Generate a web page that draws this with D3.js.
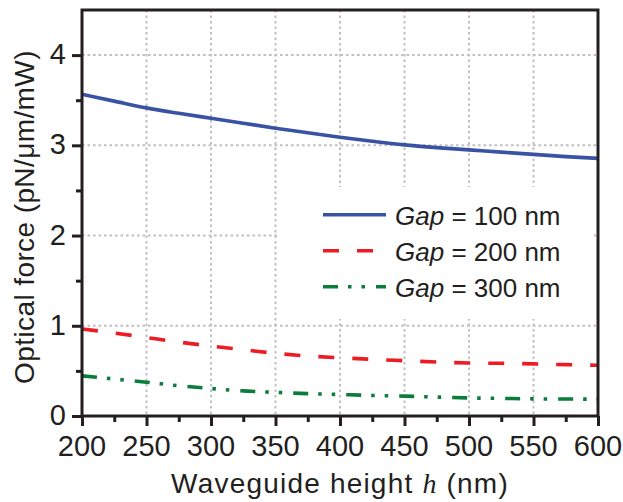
<!DOCTYPE html>
<html>
<head>
<meta charset="utf-8">
<script src="https://d3js.org/d3.v7.min.js"></script>
<style>
    body { margin: 0; background: #fff; }
    text { font-family: "Liberation Sans", Arial, sans-serif; fill: #231f20; }
    .axis path { display: none; }
    .axis line { stroke: #231f20; stroke-width: 3; }
    .grid line { stroke: #c0c0c0; stroke-width: 2; stroke-dasharray: 2.6, 2.9; }
</style>
</head>
<body>
<div id="chart"></div>
<script>
var margin = { top: 10, right: 25, bottom: 86, left: 82 },
    width = 623 - margin.left - margin.right,
    height = 502 - margin.top - margin.bottom;

// waveguide height (nm)
var heights = [200, 225, 250, 275, 300, 325, 350, 375, 400, 425, 450, 475, 500, 525, 550, 575, 600];
// optical force (pN/um/mW) for each gap
var gap100 = [3.565, 3.49, 3.415, 3.355, 3.30, 3.245, 3.19, 3.14, 3.09, 3.045, 3.005, 2.975, 2.95, 2.925, 2.90, 2.875, 2.855];
var gap200 = [0.965, 0.92, 0.87, 0.82, 0.775, 0.735, 0.695, 0.665, 0.645, 0.628, 0.613, 0.598, 0.588, 0.584, 0.578, 0.569, 0.563];
var gap300 = [0.445, 0.41, 0.375, 0.335, 0.305, 0.278, 0.262, 0.248, 0.238, 0.228, 0.22, 0.21, 0.2, 0.195, 0.19, 0.188, 0.187];

var xTicks = [200, 250, 300, 350, 400, 450, 500, 550, 600];
var yTicks = [0, 1, 2, 3, 4];
var legendLabels = ["100 nm", "200 nm", "300 nm"];

var series = [
    { name: legendLabels[0], values: gap100, color: "#3953a4", dash: null },
    { name: legendLabels[1], values: gap200, color: "#ed1c24", dash: "16,18" },
    { name: legendLabels[2], values: gap300, color: "#0c7c3d", dash: "15,10,3.5,10,3.5,11" }
];

var svg = d3.select("#chart").append("svg")
    .attr("width", 623)
    .attr("height", 502);

var g = svg.append("g")
    .attr("transform", "translate(" + margin.left + "," + margin.top + ")");

var x = d3.scaleLinear().domain([200, 600]).range([0, width]);
var y = d3.scaleLinear().domain([0, 4.5]).range([height, 0]);

// dotted grid
g.append("g").attr("class", "grid")
    .selectAll("line").data(xTicks.slice(1, -1)).enter().append("line")
    .attr("x1", function(d) { return x(d); }).attr("x2", function(d) { return x(d); })
    .attr("y1", 0).attr("y2", height);
g.append("g").attr("class", "grid")
    .selectAll("line").data(yTicks.slice(1)).enter().append("line")
    .attr("x1", 0).attr("x2", width)
    .attr("y1", function(d) { return y(d); }).attr("y2", function(d) { return y(d); });

// legend background hides the grid behind it
g.append("rect")
    .attr("x", 195).attr("y", 177)
    .attr("width", width - 195 - 4).attr("height", 132)
    .attr("fill", "#fff");

// lines
var line = d3.line()
    .curve(d3.curveMonotoneX)
    .x(function(d, i) { return x(heights[i]); })
    .y(function(d) { return y(d); });

g.selectAll(".line").data(series).enter().append("path")
    .attr("class", "line")
    .attr("fill", "none")
    .attr("stroke", function(d) { return d.color; })
    .attr("stroke-width", 3.6)
    .attr("stroke-dasharray", function(d) { return d.dash; })
    .attr("d", function(d) { return line(d.values); });

// axes: major and minor ticks
var xAxis = d3.axisBottom(x).tickValues(xTicks).tickSize(10).tickSizeOuter(0).tickFormat("");
var xMinor = d3.axisBottom(x).tickValues(d3.range(225, 600, 50)).tickSize(6).tickSizeOuter(0).tickFormat("");
var yAxis = d3.axisLeft(y).tickValues(yTicks).tickSize(10).tickSizeOuter(0).tickFormat("");
var yMinor = d3.axisLeft(y).tickValues([0.5, 1.5, 2.5, 3.5]).tickSize(6).tickSizeOuter(0).tickFormat("");

g.append("g").attr("class", "axis").attr("transform", "translate(0," + height + ")").call(xAxis);
g.append("g").attr("class", "axis").attr("transform", "translate(0," + height + ")").call(xMinor);
g.append("g").attr("class", "axis").call(yAxis);
g.append("g").attr("class", "axis").call(yMinor);

// frame
g.append("rect")
    .attr("width", width).attr("height", height)
    .attr("fill", "none")
    .attr("stroke", "#231f20")
    .attr("stroke-width", 3);

// tick labels
g.selectAll(".xlab").data(xTicks).enter().append("text")
    .attr("x", function(d) { return x(d); })
    .attr("y", height + 40)
    .attr("text-anchor", "middle")
    .style("font-size", "29px")
    .text(function(d) { return d; });

g.selectAll(".ylab").data(yTicks).enter().append("text")
    .attr("x", -16)
    .attr("y", function(d) { return y(d) + 9; })
    .attr("text-anchor", "end")
    .style("font-size", "29px")
    .text(function(d) { return d; });

// axis titles
var xt = svg.append("text")
    .attr("x", margin.left + width / 2)
    .attr("y", 493)
    .attr("text-anchor", "middle")
    .style("font-size", "28px")
    .style("letter-spacing", "1.2px");
xt.append("tspan").text("Waveguide height ");
xt.append("tspan").style("font-family", "'Liberation Serif', serif").style("font-style", "italic").text("h");
xt.append("tspan").text(" (nm)");

svg.append("text")
    .attr("transform", "translate(34," + (margin.top + height / 2 + 4) + ") rotate(-90)")
    .attr("text-anchor", "middle")
    .style("font-size", "28px")
    .style("letter-spacing", "0.4px")
    .text("Optical force (pN/\u03bcm/mW)");

// legend
var legend = g.selectAll(".legend").data(series).enter().append("g")
    .attr("class", "legend")
    .attr("transform", function(d, i) { return "translate(241," + (204.7 + i * 36) + ")"; });

legend.append("line")
    .attr("x1", 0).attr("x2", 63)
    .attr("stroke", function(d) { return d.color; })
    .attr("stroke-width", 3.6)
    .attr("stroke-dasharray", function(d) { return d.dash; });

var lt = legend.append("text")
    .attr("x", 72)
    .attr("y", 10)
    .style("font-size", "26px");
lt.append("tspan").style("font-style", "italic").text("Gap");
lt.append("tspan").text(function(d) { return " = " + d.name; });
</script>
</body>
</html>
